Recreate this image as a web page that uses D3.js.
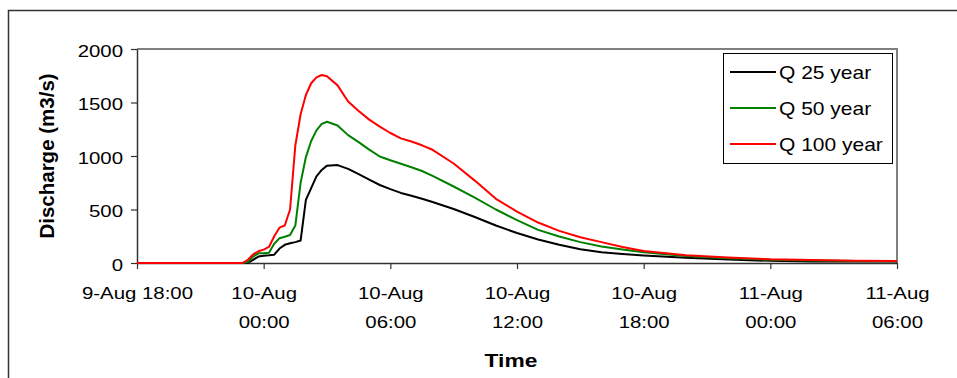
<!DOCTYPE html>
<html>
<head>
<meta charset="utf-8">
<script src="https://cdn.jsdelivr.net/npm/d3@7/dist/d3.min.js"></script>
<style>
  html, body { margin: 0; padding: 0; background: #fff; }
  svg { display: block; }
  text { font-family: "Liberation Sans", Arial, sans-serif; fill: #000; }
</style>
</head>
<body>
<svg id="chart" width="957" height="378"></svg>
<script>
// Hours after 9-Aug 18:00
const hours = [0, 5, 5.25, 5.5, 5.75, 6, 6.25, 6.5, 6.75, 7, 7.25, 7.5, 7.75, 8, 8.25, 8.5, 8.75,
  9, 9.5, 10, 10.5, 11, 11.5, 12, 12.5, 13, 13.5, 14, 15, 16, 17, 18, 19, 20, 21, 22, 23, 24,
  26, 28, 30, 32, 34, 36];

// Discharge (m3/s) for each return period
const q25 = [0, 0, 0, 30, 60, 68, 72, 78, 135, 170, 185, 195, 210, 590, 700, 810, 870,
  910, 915, 880, 830, 780, 729, 690, 655, 628, 600, 570, 505, 430, 350, 280, 220, 170, 128, 100, 83, 70,
  50, 33, 20, 15, 14, 14];
const q50 = [0, 0, 10, 60, 90, 92, 96, 180, 232, 245, 262, 350, 750, 990, 1140, 1240, 1300,
  1320, 1285, 1195, 1130, 1060, 995, 960, 928, 895, 860, 815, 715, 610, 500, 400, 310, 248, 195, 155, 126, 100,
  65, 45, 30, 24, 19, 17];
const q100 = [0, 0, 30, 80, 110, 125, 150, 250, 330, 350, 500, 1100, 1390, 1570, 1680, 1735, 1757,
  1745, 1660, 1510, 1420, 1340, 1275, 1215, 1165, 1135, 1100, 1058, 930, 770, 600, 480, 378, 300, 240, 195, 150, 113,
  73, 52, 35, 28, 20, 18];

const seriesNames = ["Q 25 year", "Q 50 year", "Q 100 year"];
const seriesColors = ["#000000", "#008000", "#ff0000"];
const seriesValues = [q25, q50, q100];

const xTickValues = [0, 6, 12, 18, 24, 30, 36];
const xTickLabels = [["9-Aug 18:00"], ["10-Aug", "00:00"], ["10-Aug", "06:00"], ["10-Aug", "12:00"],
  ["10-Aug", "18:00"], ["11-Aug", "00:00"], ["11-Aug", "06:00"]];
const yTickValues = [0, 500, 1000, 1500, 2000];

const svg = d3.select("#chart");
const plot = { left: 137, right: 897, top: 49, bottom: 263 };
const stretch = 1.2; // wide glyph proportions of the labels

const x = d3.scaleLinear().domain([0, 36]).range([plot.left, plot.right]);
const y = d3.scaleLinear().domain([0, 2000]).range([plot.bottom, plot.top]);

// Outer chart frame (continues past the right and bottom edges)
svg.append("path")
  .attr("d", "M8.5,378 L8.5,10.5 L957,10.5")
  .attr("fill", "none").attr("stroke", "#333").attr("stroke-width", 1.5);

// Plot area border (top and right)
svg.append("path")
  .attr("d", `M${plot.left},${plot.top} L${plot.right},${plot.top} L${plot.right},${plot.bottom}`)
  .attr("fill", "none").attr("stroke", "#808080").attr("stroke-width", 2);

// Y axis
const yAxis = svg.append("g")
  .attr("transform", `translate(${plot.left},0)`)
  .call(d3.axisLeft(y).tickValues(yTickValues).tickSize(6).tickSizeOuter(0).tickFormat(d3.format("d")));
yAxis.select(".domain").attr("stroke", "#333").attr("stroke-width", 1.5);
yAxis.selectAll(".tick line").attr("stroke", "#333").attr("stroke-width", 1.2);
yAxis.selectAll(".tick text")
  .attr("font-size", 17)
  .attr("font-family", "Liberation Sans, Arial, sans-serif")
  .attr("x", -14 / stretch)
  .attr("dy", "0.42em")
  .attr("transform", `scale(${stretch},1)`);

// X axis
const xAxis = svg.append("g")
  .attr("transform", `translate(0,${plot.bottom})`)
  .call(d3.axisBottom(x).tickValues(xTickValues).tickSize(6).tickSizeOuter(0).tickFormat(""));
xAxis.select(".domain").attr("stroke", "#333").attr("stroke-width", 1.5);
xAxis.selectAll(".tick line").attr("stroke", "#333").attr("stroke-width", 1.2);
xAxis.selectAll(".tick").each(function (d, i) {
  const t = d3.select(this).select("text")
    .attr("y", null).attr("dy", null)
    .attr("font-size", 17)
    .attr("font-family", "Liberation Sans, Arial, sans-serif")
    .attr("text-anchor", "middle")
    .attr("transform", `scale(${stretch},1)`)
    .text(null);
  xTickLabels[i].forEach((line, k) => {
    t.append("tspan").attr("x", 0).attr("y", 36 + k * 29).text(line);
  });
});

// Series lines
const line = d3.line()
  .x((d, i) => x(hours[i]))
  .y(d => y(d));
seriesValues.forEach((vals, s) => {
  svg.append("path")
    .datum(vals)
    .attr("fill", "none")
    .attr("stroke", seriesColors[s])
    .attr("stroke-width", 2)
    .attr("stroke-linejoin", "round")
    .attr("d", line);
});

// Axis titles
svg.append("text")
  .attr("transform", `translate(54,156) rotate(-90)`)
  .attr("text-anchor", "middle")
  .attr("font-size", 20.5)
  .attr("font-weight", "bold")
  .text("Discharge (m3/s)");

svg.append("text")
  .attr("transform", `translate(511,367) scale(${stretch},1)`)
  .attr("text-anchor", "middle")
  .attr("font-size", 19)
  .attr("font-weight", "bold")
  .text("Time");

// Legend
const legend = svg.append("g");
legend.append("rect")
  .attr("x", 723.5).attr("y", 53.5).attr("width", 169).attr("height", 110)
  .attr("fill", "#fff").attr("stroke", "#000").attr("stroke-width", 1);
const legendY = [72, 108, 144];
seriesNames.forEach((name, s) => {
  legend.append("line")
    .attr("x1", 730).attr("x2", 776)
    .attr("y1", legendY[s]).attr("y2", legendY[s])
    .attr("stroke", seriesColors[s]).attr("stroke-width", 2);
  legend.append("text")
    .attr("transform", `translate(779,${legendY[s] + 7}) scale(${stretch},1)`)
    .attr("font-size", 17.5)
    .text(name);
});
</script>
</body>
</html>
